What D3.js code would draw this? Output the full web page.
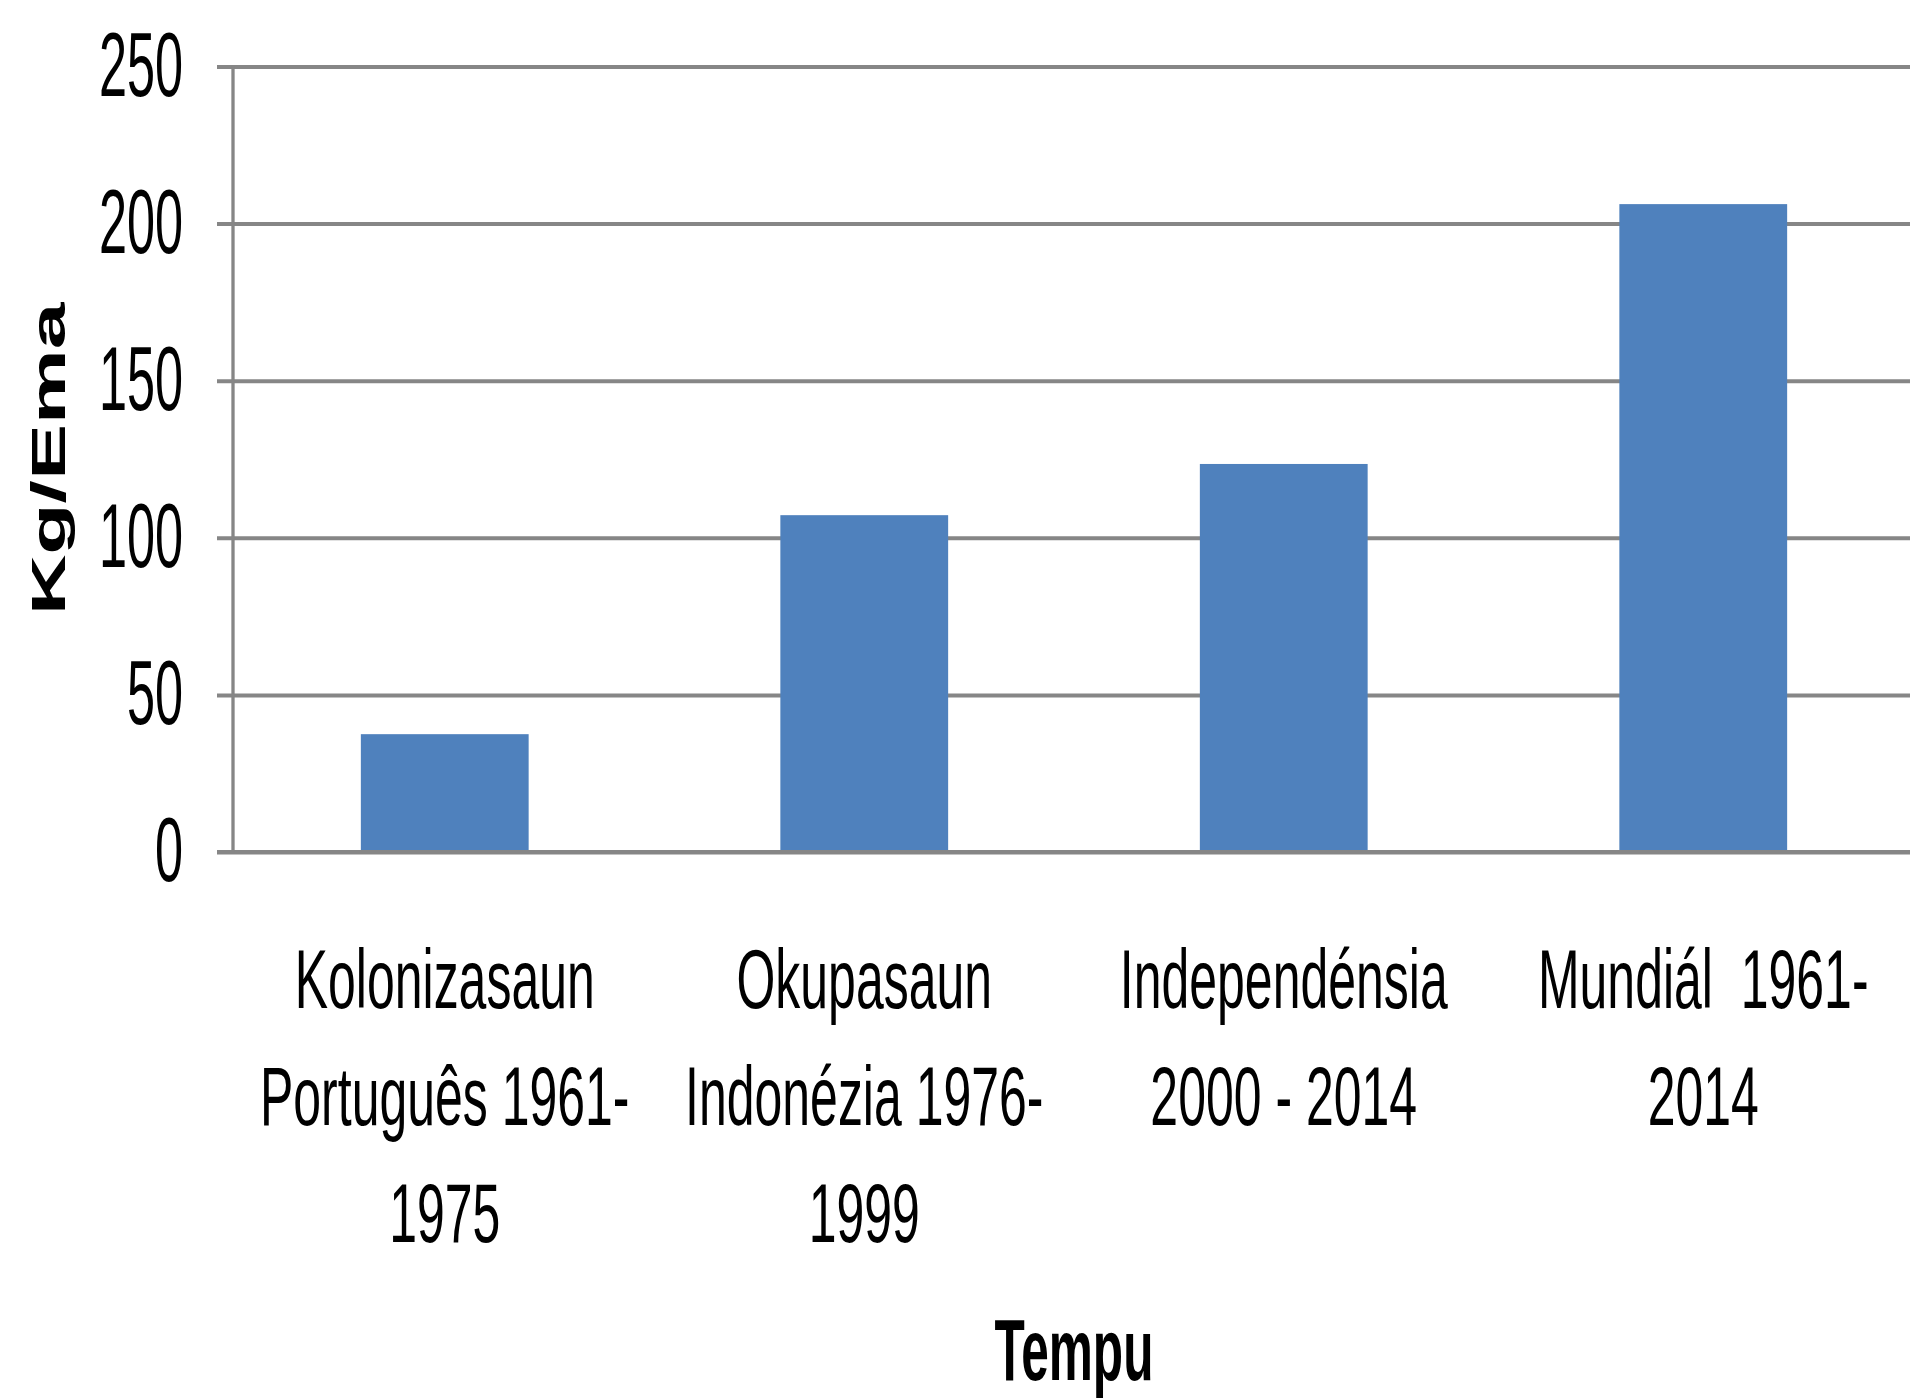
<!DOCTYPE html>
<html>
<head>
<meta charset="utf-8">
<script src="https://cdn.jsdelivr.net/npm/d3@7"></script>
<style>
  body { margin: 0; background: #fff; }
  text { font-family: "Liberation Sans", Arial, sans-serif; fill: #000; }
</style>
</head>
<body>
<div id="chart"></div>
<script>
// data
var categories = ["Kolonizasaun", "Okupasaun", "Independensia", "Mundial"];
var categoryLines = [
    ["Kolonizasaun", "Português 1961-", "1975"],
    ["Okupasaun", "Indonézia 1976-", "1999"],
    ["Independénsia", "2000 - 2014"],
    ["Mundiál  1961-", "2014"]
];
var values = [37.5, 107.2, 123.5, 206.2];
var yTicks = [0, 50, 100, 150, 200, 250];

var svgWidth = 1910;
var svgHeight = 1400;

var margin = { t: 66.5, r: -2, b: 548, l: 234 };
var width = svgWidth - margin.l - margin.r;
var height = svgHeight - margin.t - margin.b;

var svg = d3.select("#chart")
    .append("svg")
    .attr("width", svgWidth)
    .attr("height", svgHeight);

var chartGroup = svg.append("g")
    .attr("transform", `translate(${margin.l}, ${margin.t})`);

var xBandScale = d3.scaleBand()
    .domain(categories)
    .range([1, width + 1])
    .paddingInner(0.6)
    .paddingOuter(0.3);

var yLinearScale = d3.scaleLinear()
    .domain([0, 250])
    .range([height, 0]);

var grey = "#868686";

// gridlines + y tick labels
var leftAxis = d3.axisLeft(yLinearScale)
    .tickValues(yTicks)
    .tickSize(-(width + 20))
    .tickSizeOuter(0);

var yAxis = chartGroup.append("g").call(leftAxis);
yAxis.select(".domain").remove();
yAxis.selectAll(".tick line")
    .attr("x1", -17)
    .attr("stroke", grey)
    .attr("stroke-width", 4);
yAxis.selectAll(".tick text")
    .attr("x", 0)
    .attr("dy", "0.32em")
    .attr("transform", "translate(-51,0) scale(0.56,1)")
    .attr("font-size", 90)
    .attr("font-family", "Liberation Sans, Arial, sans-serif")
    .attr("fill", "#000");

// bars
chartGroup.selectAll(".bar")
    .data(values)
    .enter()
    .append("rect")
    .attr("class", "bar")
    .attr("x", (d, i) => xBandScale(categories[i]))
    .attr("y", d => yLinearScale(d))
    .attr("width", xBandScale.bandwidth())
    .attr("height", d => height - yLinearScale(d))
    .attr("fill", "#4F81BD");

// zero line on top of bars
chartGroup.append("line")
    .attr("x1", -17)
    .attr("x2", width + 20)
    .attr("y1", yLinearScale(0))
    .attr("y2", yLinearScale(0))
    .attr("stroke", grey)
    .attr("stroke-width", 4);

// vertical axis line
chartGroup.append("line")
    .attr("x1", -1)
    .attr("x2", -1)
    .attr("y1", yLinearScale(250))
    .attr("y2", yLinearScale(0))
    .attr("stroke", grey)
    .attr("stroke-width", 3.3);

// category labels (several lines each)
var lineBase = [1008, 1125, 1242];
categoryLines.forEach(function(lines, i) {
    var cx = margin.l + xBandScale(categories[i]) + xBandScale.bandwidth() / 2;
    lines.forEach(function(txt, j) {
        svg.append("text")
            .attr("transform", `translate(${cx}, ${lineBase[j]}) scale(0.595,1)`)
            .attr("text-anchor", "middle")
            .attr("font-size", 84)
            .style("white-space", "pre")
            .text(txt);
    });
});

// axis titles
svg.append("text")
    .attr("transform", "translate(65, 459) scale(0.58,1) rotate(-90)")
    .attr("text-anchor", "middle")
    .attr("font-size", 84)
    .attr("font-weight", "bold")
    .text("Kg/Ema");

svg.append("text")
    .attr("transform", "translate(1074, 1380) scale(0.57,1)")
    .attr("text-anchor", "middle")
    .attr("font-size", 87)
    .attr("font-weight", "bold")
    .text("Tempu");
</script>
</body>
</html>
